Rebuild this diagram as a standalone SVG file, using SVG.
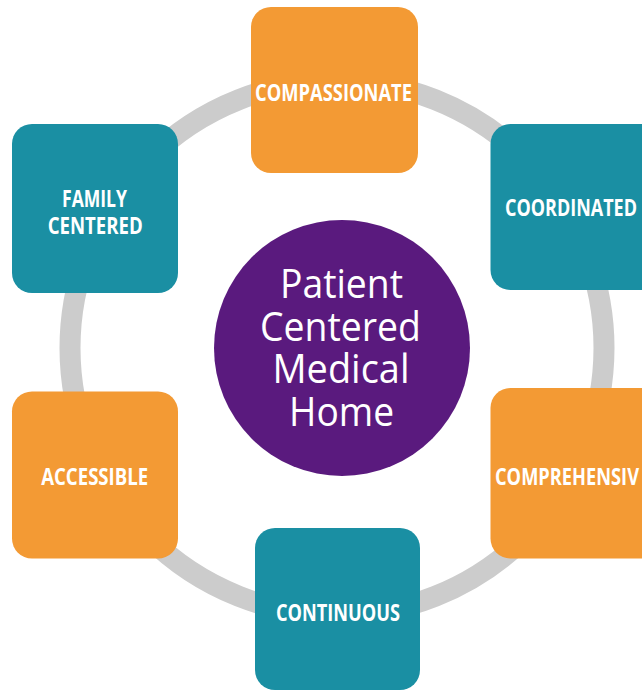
<svg xmlns="http://www.w3.org/2000/svg" width="642" height="695" viewBox="0 0 642 695">
<style>
.orange{fill:#F39A34}
.teal{fill:#1A8FA3}
.lbl{font-family:"Open Sans","Liberation Sans",sans-serif;font-weight:bold;font-size:23px;fill:#fff;text-anchor:middle}
.ctr{font-family:"Open Sans","Liberation Sans",sans-serif;font-size:40px;fill:#fff;text-anchor:middle}
</style>
<rect width="642" height="695" fill="#fff"/>
<g id="connectors">
<circle cx="337" cy="348" r="267" fill="none" stroke="#CCCCCC" stroke-width="21"/>
</g>
<g id="center">
<circle cx="342" cy="348" r="128" fill="#5A1A7E"/>
<text class="ctr" x="341.5" y="298" textLength="123" lengthAdjust="spacingAndGlyphs">Patient</text>
<text class="ctr" x="340.5" y="341" textLength="161" lengthAdjust="spacingAndGlyphs">Centered</text>
<text class="ctr" x="341" y="383" textLength="137" lengthAdjust="spacingAndGlyphs">Medical</text>
<text class="ctr" x="341.5" y="426" textLength="105" lengthAdjust="spacingAndGlyphs">Home</text>
</g>
<g id="compassionate">
<rect class="orange" x="251" y="7" width="167" height="166" rx="20"/>
<text class="lbl" x="333.5" y="100.5" textLength="157" lengthAdjust="spacingAndGlyphs">COMPASSIONATE</text>
</g>
<g id="family-centered">
<rect class="teal" x="12" y="124" width="166" height="169" rx="20"/>
<text class="lbl" x="94.5" y="207" textLength="65" lengthAdjust="spacingAndGlyphs">FAMILY</text>
<text class="lbl" x="95.2" y="233.5" textLength="95" lengthAdjust="spacingAndGlyphs">CENTERED</text>
</g>
<g id="coordinated">
<rect class="teal" x="490.5" y="124" width="170" height="166" rx="20"/>
<text class="lbl" x="571" y="216" textLength="132" lengthAdjust="spacingAndGlyphs">COORDINATED</text>
</g>
<g id="accessible">
<rect class="orange" x="12" y="391.5" width="166" height="167" rx="20"/>
<text class="lbl" x="94.7" y="484.5" textLength="107" lengthAdjust="spacingAndGlyphs">ACCESSIBLE</text>
</g>
<g id="comprehensive">
<rect class="orange" x="490.5" y="388" width="170" height="170.5" rx="20"/>
<text class="lbl" x="567" y="484.5" textLength="144" lengthAdjust="spacingAndGlyphs">COMPREHENSIV</text>
</g>
<g id="continuous">
<rect class="teal" x="255" y="528" width="165" height="162" rx="20"/>
<text class="lbl" x="338" y="621" textLength="124" lengthAdjust="spacingAndGlyphs">CONTINUOUS</text>
</g>
</svg>
